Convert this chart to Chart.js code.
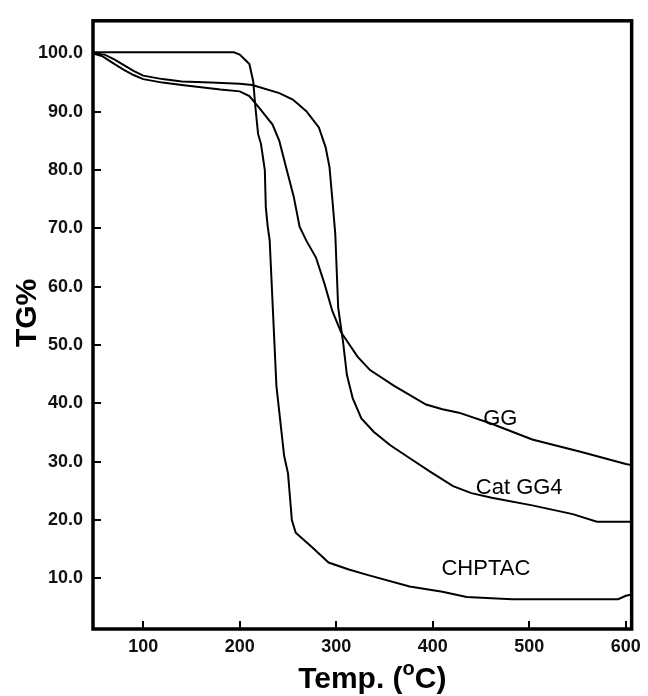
<!DOCTYPE html>
<html>
<head>
<meta charset="utf-8">
<script src="https://cdn.jsdelivr.net/npm/chart.js@4.4.1/dist/chart.umd.min.js"></script>
<style>
  html, body { margin: 0; padding: 0; background: #fff; }
  #wrap { width: 648px; height: 696px; }
</style>
</head>
<body>
<div id="wrap"><canvas id="c" width="648" height="696"></canvas></div>
<script>
// ---- data ----
const ggTemp  = [48, 58, 70, 80, 90, 100, 120, 140, 160, 180, 200, 210, 220, 234, 241, 248, 256, 262, 269, 279, 288, 296, 305, 322, 335, 360, 393, 410, 427, 461, 503, 553, 600, 606];
const ggTG    = [100, 99.5, 98.2, 97.2, 96.3, 95.6, 95.0, 94.6, 94.2, 93.8, 93.5, 92.7, 90.7, 87.8, 85.0, 80.5, 75.4, 70.3, 67.9, 65.0, 60.4, 55.8, 52.2, 48.0, 45.7, 43.0, 39.8, 39.0, 38.4, 36.5, 33.8, 31.7, 29.6, 29.4];

const catTemp = [48, 60, 70, 80, 90, 100, 120, 140, 170, 200, 213, 241, 255, 269, 282, 289, 293, 296, 299, 302, 307, 311, 317, 326, 339, 356, 377, 398, 421, 440, 461, 503, 545, 570, 600, 606];
const catTG   = [100, 99.8, 99.0, 98.0, 97.0, 96.2, 95.6, 95.2, 95.0, 94.8, 94.6, 93.2, 92.1, 90.1, 87.3, 83.9, 80.5, 74.9, 69.0, 56.4, 50.6, 44.9, 40.9, 37.4, 35.1, 32.8, 30.5, 28.2, 25.8, 24.6, 23.8, 22.5, 21.0, 19.7, 19.7, 19.7];

const chpTemp = [48, 100, 150, 194, 200, 205, 210, 214, 216, 219, 222, 226, 227, 229, 231, 238, 246, 250, 254, 258, 275, 292, 313, 334, 376, 410, 435, 482, 592, 600, 606];
const chpTG   = [100.2, 100.2, 100.2, 100.2, 99.8, 99.0, 98.2, 95.2, 91.2, 86.2, 84.5, 80.0, 73.7, 70.3, 68.0, 43.0, 31.0, 28.0, 20.0, 17.8, 15.3, 12.7, 11.5, 10.5, 8.6, 7.7, 6.8, 6.4, 6.4, 7.0, 7.2];

const seriesNames = ['GG', 'Cat GG4', 'CHPTAC'];
const labelTemp   = [470, 489.5, 455];
const labelTG     = [37.4, 25.5, 11.6];

const xTicks = [100, 200, 300, 400, 500, 600];
const yTicks = [10, 20, 30, 40, 50, 60, 70, 80, 90, 100];

const yTitle = 'TG%';
const FONT = '"Liberation Sans", Arial, sans-serif';

// ---- helpers ----
function pts(xs, ys) { return xs.map((x, i) => ({ x: x, y: ys[i] })); }

const framePlugin = {
  id: 'frame',
  afterDatasetsDraw(chart) {
    const { ctx, chartArea: a, scales } = chart;
    ctx.save();
    ctx.strokeStyle = '#000';
    // inward ticks
    ctx.lineWidth = 2;
    ctx.beginPath();
    xTicks.forEach(v => {
      const px = Math.round(scales.x.getPixelForValue(v));
      ctx.moveTo(px, a.bottom);
      ctx.lineTo(px, a.bottom - 8);
    });
    yTicks.forEach(v => {
      const py = Math.round(scales.y.getPixelForValue(v));
      ctx.moveTo(a.left, py);
      ctx.lineTo(a.left + 8, py);
    });
    ctx.stroke();
    // frame
    ctx.lineWidth = 3.5;
    ctx.strokeRect(a.left, a.top, a.right - a.left, a.bottom - a.top);
    // curve labels
    ctx.fillStyle = '#000';
    ctx.font = '22px ' + FONT;
    ctx.textAlign = 'center';
    ctx.textBaseline = 'middle';
    seriesNames.forEach((n, i) => {
      ctx.fillText(n, scales.x.getPixelForValue(labelTemp[i]), scales.y.getPixelForValue(labelTG[i]));
    });
    // y-axis title
    ctx.save();
    ctx.translate(28, (a.top + a.bottom) / 2 - 12);
    ctx.rotate(-Math.PI / 2);
    ctx.font = 'bold 30px ' + FONT;
    ctx.fillText(yTitle, 0, 0);
    ctx.restore();
    // x-axis title with superscript o
    const parts = [
      { t: 'Temp. (', f: 'bold 30px ' + FONT, dy: 0 },
      { t: 'o', f: 'bold 20px ' + FONT, dy: -13 },
      { t: 'C)', f: 'bold 30px ' + FONT, dy: 0 }
    ];
    let total = 0;
    parts.forEach(p => { ctx.font = p.f; p.w = ctx.measureText(p.t).width; total += p.w; });
    let x = (a.left + a.right) / 2 + 10 - total / 2;
    const baseY = 688;
    ctx.textAlign = 'left';
    ctx.textBaseline = 'alphabetic';
    parts.forEach(p => { ctx.font = p.f; ctx.fillText(p.t, x, baseY + p.dy); x += p.w; });
    ctx.restore();
  }
};

const lineStyle = {
  borderColor: '#000',
  backgroundColor: '#000',
  borderWidth: 2,
  pointRadius: 0,
  tension: 0,
  fill: false
};

new Chart(document.getElementById('c'), {
  type: 'line',
  data: {
    datasets: [
      Object.assign({ label: seriesNames[0], data: pts(ggTemp, ggTG) }, lineStyle),
      Object.assign({ label: seriesNames[1], data: pts(catTemp, catTG) }, lineStyle),
      Object.assign({ label: seriesNames[2], data: pts(chpTemp, chpTG) }, lineStyle)
    ]
  },
  options: {
    responsive: false,
    devicePixelRatio: 1,
    animation: false,
    layout: { padding: { top: 15, right: 12, left: 0, bottom: 0 } },
    plugins: { legend: { display: false }, tooltip: { enabled: false } },
    scales: {
      x: {
        type: 'linear',
        min: 48, max: 606,
        afterBuildTicks: s => { s.ticks = xTicks.map(v => ({ value: v })); },
        afterFit: s => { s.height = 67; },
        grid: { display: false, drawTicks: false },
        border: { display: false },
        ticks: {
          color: '#111',
          padding: 7,
          font: { family: FONT, size: 18, weight: 'bold' },
          callback: v => String(v)
        },
        title: { display: false }
      },
      y: {
        type: 'linear',
        min: 1.3, max: 105.6,
        afterBuildTicks: s => { s.ticks = yTicks.map(v => ({ value: v })); },
        afterFit: s => { s.width = 93; },
        grid: { display: false, drawTicks: false },
        border: { display: false },
        ticks: {
          color: '#111',
          padding: 10,
          font: { family: FONT, size: 18, weight: 'bold' },
          callback: v => Number(v).toFixed(1)
        },
        title: { display: false }
      }
    }
  },
  plugins: [framePlugin]
});
</script>
</body>
</html>
